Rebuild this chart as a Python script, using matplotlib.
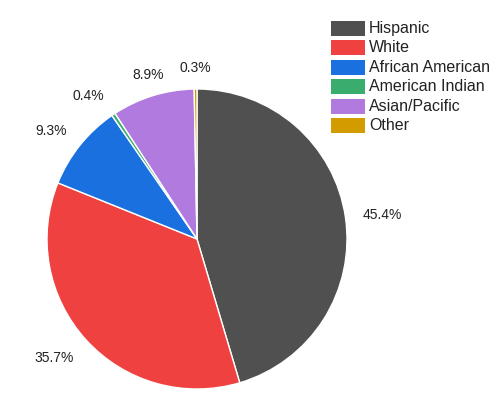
import matplotlib
matplotlib.use("Agg")
import numpy as np
import matplotlib.pyplot as plt
from matplotlib.patches import Rectangle

categories = ["Hispanic", "White", "African American", "American Indian", "Asian/Pacific", "Other"]
values = [45.4, 35.7, 9.3, 0.4, 8.9, 0.3]
colors = ["#505050", "#f04141", "#1a70de", "#3aad6e", "#b07adf", "#d29c00"]

plt.rcParams['font.family'] = ['Liberation Sans', 'DejaVu Sans']

W, H = 495, 393
fig = plt.figure(figsize=(W / 100, H / 100), dpi=100)
cx, cy, r = 197, 239, 150
ax = fig.add_axes([(cx - r) / W, (H - cy - r) / H, 2 * r / W, 2 * r / H])
wedges, _ = ax.pie(
    values, colors=colors, startangle=90, counterclock=False,
    wedgeprops=dict(edgecolor="white", linewidth=1))
ax.set_xlim(-1, 1)
ax.set_ylim(-1, 1)
ax.set_aspect("equal")

total = sum(values)
label_r = 1.113
for w, v in zip(wedges, values):
    th = np.deg2rad((w.theta1 + w.theta2) / 2)
    c, s = np.cos(th), np.sin(th)
    ha = "left" if c > 0.35 else ("right" if c < -0.35 else "center")
    va = "baseline" if s > 0.35 else ("top" if s < -0.35 else "center")
    ax.text(label_r * c, label_r * s, f"{100 * v / total:.1f}%", ha=ha, va=va,
            fontsize=10, color="#222222", clip_on=False)

# legend
x0, y0, bw, bh, step = 331, 21, 34, 15, 19.4
for i, lab in enumerate(categories):
    top = y0 + i * step
    fig.patches.append(Rectangle((x0 / W, 1 - (top + bh) / H), bw / W, bh / H,
                                 transform=fig.transFigure, facecolor=colors[i],
                                 edgecolor="none"))
    fig.text((x0 + bw + 4) / W, 1 - (top + bh / 2) / H, lab, fontsize=11.5,
             va="center", ha="left", color="#222222")

fig.savefig("out.png", dpi=100)
